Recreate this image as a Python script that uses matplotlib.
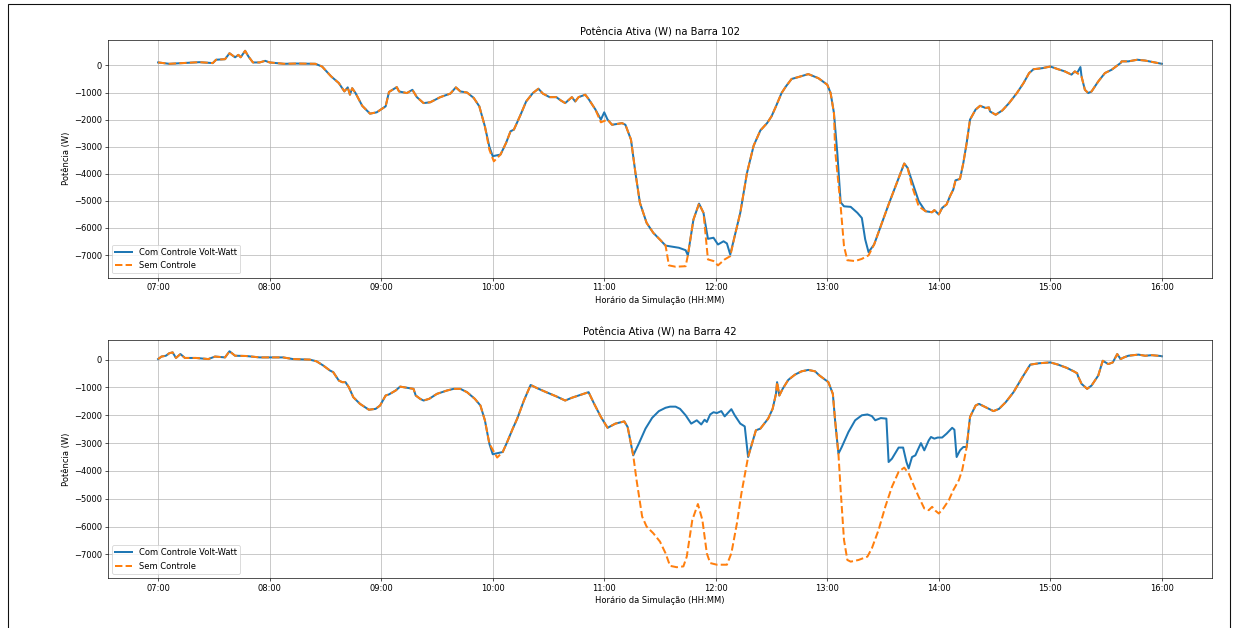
import matplotlib
matplotlib.use("Agg")
import matplotlib.pyplot as plt
import matplotlib.dates as mdates
from matplotlib.patches import Rectangle
import pandas as pd

# ---------------------------------------------------------------------------
# data (time in decimal hours, power in W)
# ---------------------------------------------------------------------------
b102_com_t = [7.0, 7.1, 7.22, 7.37, 7.49, 7.52, 7.6, 7.64, 7.69, 7.72, 7.74, 7.78, 7.81, 7.85, 7.91,
              7.96, 8.0, 8.13, 8.24, 8.41, 8.47, 8.55, 8.62, 8.67, 8.70, 8.72, 8.74, 8.77, 8.83, 8.90,
              8.96, 9.04, 9.07, 9.14, 9.16, 9.23, 9.28, 9.32, 9.38, 9.44, 9.53, 9.62, 9.67, 9.71, 9.77,
              9.83, 9.88, 9.93, 9.97, 10.0, 10.07, 10.12, 10.16, 10.19, 10.25, 10.30, 10.36, 10.41,
              10.45, 10.51, 10.57, 10.61, 10.65, 10.71, 10.74, 10.77, 10.83, 10.86, 10.92, 10.97, 11.0,
              11.03, 11.07, 11.16, 11.19, 11.24, 11.28, 11.32, 11.38, 11.44, 11.50, 11.55, 11.67, 11.73,
              11.75, 11.80, 11.85, 11.89, 11.93, 11.98, 12.02, 12.07, 12.10, 12.13, 12.17, 12.22, 12.28,
              12.34, 12.40, 12.46, 12.50, 12.54, 12.59, 12.63, 12.68, 12.74, 12.83, 12.92, 13.0, 13.03,
              13.06, 13.09, 13.12, 13.15, 13.21, 13.27, 13.31, 13.34, 13.37, 13.42, 13.48, 13.55, 13.63,
              13.69, 13.72, 13.76, 13.82, 13.88, 13.94, 13.96, 14.0, 14.03, 14.07, 14.10, 14.13, 14.15,
              14.19, 14.22, 14.25, 14.28, 14.33, 14.37, 14.42, 14.45, 14.46, 14.51, 14.57, 14.63, 14.70,
              14.76, 14.81, 14.85, 14.93, 15.0, 15.07, 15.13, 15.19, 15.22, 15.24, 15.27, 15.28, 15.31,
              15.34, 15.37, 15.43, 15.49, 15.55, 15.63, 15.64, 15.70, 15.78, 15.85, 15.94, 16.0]
b102_com_p = [110, 60, 86, 120, 86, 210, 230, 450, 300, 390, 300, 540, 330, 110, 110,
              170, 110, 60, 70, 60, -40, -400, -650, -960, -810, -1080, -840, -1020, -1490, -1780,
              -1730, -1510, -980, -800, -960, -1020, -900, -1170, -1390, -1360, -1170, -1040, -810, -960, -1000,
              -1200, -1510, -2250, -3000, -3350, -3290, -2860, -2430, -2370, -1820, -1330, -1020, -860,
              -1040, -1170, -1170, -1290, -1390, -1170, -1330, -1170, -1080, -1240, -1620, -2000, -1730,
              -2000, -2190, -2130, -2190, -2740, -3970, -5070, -5810, -6180, -6430, -6650, -6730, -6820,
              -7010, -5690, -5100, -5440, -6400, -6360, -6610, -6490, -6570, -6980, -6300, -5440, -3970,
              -2960, -2400, -2130, -1880, -1510, -1020, -770, -500, -430, -320, -470, -710, -1020,
              -1760, -3230, -5050, -5200, -5220, -5440, -5630, -6420, -6890, -6610, -5930, -5130, -4270,
              -3620, -3780, -4270, -5010, -5380, -5420, -5340, -5500, -5260, -5130, -4830, -4580, -4240,
              -4190, -3600, -2860, -2000, -1630, -1490, -1570, -1550, -1700, -1820, -1660, -1390, -1020,
              -650, -280, -140, -100, -40, -140, -220, -340, -220, -280, -60, -410, -900,
              -1020, -960, -590, -280, -160, 90, 150, 150, 210, 180, 110, 60]

b102_sem_t = [7.0, 7.1, 7.22, 7.37, 7.49, 7.52, 7.6, 7.64, 7.69, 7.72, 7.74, 7.78, 7.81, 7.85, 7.91,
              7.96, 8.0, 8.13, 8.24, 8.41, 8.47, 8.55, 8.62, 8.67, 8.70, 8.72, 8.74, 8.77, 8.83, 8.90,
              8.96, 9.04, 9.07, 9.14, 9.16, 9.23, 9.28, 9.32, 9.38, 9.44, 9.53, 9.62, 9.67, 9.71, 9.77,
              9.83, 9.88, 9.93, 9.97, 10.01, 10.07, 10.12, 10.16, 10.19, 10.25, 10.30, 10.36, 10.41,
              10.45, 10.51, 10.57, 10.61, 10.65, 10.71, 10.74, 10.77, 10.83, 10.86, 10.92, 10.97,
              11.03, 11.07, 11.16, 11.19, 11.24, 11.28, 11.32, 11.38, 11.44, 11.50, 11.55, 11.58, 11.64,
              11.73, 11.75, 11.80, 11.85, 11.89, 11.93, 11.98, 12.02, 12.08, 12.13, 12.17, 12.22, 12.28,
              12.34, 12.40, 12.46, 12.50, 12.54, 12.59, 12.63, 12.68, 12.74, 12.83, 12.92, 13.0, 13.03,
              13.06, 13.07, 13.12, 13.15, 13.18, 13.25, 13.31, 13.37, 13.42, 13.48, 13.55, 13.63,
              13.69, 13.72, 13.76, 13.82, 13.88, 13.94, 13.96, 14.0, 14.03, 14.07, 14.10, 14.13, 14.15,
              14.19, 14.22, 14.25, 14.28, 14.33, 14.37, 14.42, 14.45, 14.46, 14.51, 14.57, 14.63, 14.70,
              14.76, 14.81, 14.85, 14.93, 15.0, 15.07, 15.13, 15.19, 15.22, 15.24, 15.28, 15.31,
              15.34, 15.37, 15.43, 15.49, 15.55, 15.63, 15.64, 15.70, 15.78, 15.85, 15.94, 16.0]
b102_sem_p = [110, 60, 86, 120, 86, 210, 230, 450, 300, 390, 300, 540, 330, 110, 110,
              170, 110, 60, 70, 60, -40, -400, -650, -960, -810, -1080, -840, -1020, -1490, -1780,
              -1730, -1510, -980, -800, -960, -1020, -900, -1170, -1390, -1360, -1170, -1040, -810, -960, -1000,
              -1200, -1510, -2250, -3110, -3540, -3290, -2860, -2430, -2370, -1820, -1330, -1020, -860,
              -1040, -1170, -1170, -1290, -1390, -1170, -1330, -1170, -1080, -1240, -1620, -2100,
              -2000, -2190, -2130, -2190, -2740, -3970, -5070, -5810, -6180, -6430, -6650, -7380, -7430,
              -7410, -7010, -5690, -5100, -5440, -7160, -7220, -7380, -7160, -7040, -6300, -5440, -3970,
              -2960, -2400, -2130, -1880, -1510, -1020, -770, -500, -430, -320, -470, -710, -1020,
              -1760, -3110, -5200, -6670, -7190, -7220, -7140, -7010, -6610, -5930, -5130, -4270,
              -3620, -3780, -4460, -5200, -5380, -5420, -5340, -5500, -5260, -5130, -4830, -4580, -4240,
              -4190, -3600, -2860, -2000, -1630, -1490, -1570, -1550, -1700, -1820, -1660, -1390, -1020,
              -650, -280, -140, -100, -40, -140, -220, -340, -220, -280, -410, -900,
              -1020, -960, -590, -280, -160, 90, 150, 150, 210, 180, 110, 60]

b42_com_t = [7.0, 7.03, 7.07, 7.10, 7.13, 7.16, 7.20, 7.24, 7.34, 7.45, 7.51, 7.60, 7.64, 7.69, 7.79,
             7.91, 8.0, 8.12, 8.21, 8.36, 8.42, 8.48, 8.54, 8.57, 8.62, 8.65, 8.68, 8.71, 8.75, 8.81,
             8.89, 8.95, 8.99, 9.04, 9.07, 9.13, 9.17, 9.23, 9.29, 9.31, 9.35, 9.38, 9.43, 9.50, 9.59,
             9.65, 9.71, 9.77, 9.84, 9.89, 9.93, 9.97, 10.0, 10.09, 10.13, 10.18, 10.22, 10.28, 10.34,
             10.39, 10.48, 10.57, 10.65, 10.71, 10.80, 10.86, 10.91, 10.97, 11.03, 11.10, 11.18, 11.21,
             11.26, 11.31, 11.37, 11.43, 11.49, 11.55, 11.59, 11.64, 11.68, 11.73, 11.78, 11.83, 11.87,
             11.90, 11.92, 11.95, 11.98, 12.01, 12.05, 12.08, 12.14, 12.17, 12.22, 12.26, 12.29, 12.36,
             12.40, 12.47, 12.51, 12.54, 12.55, 12.57, 12.60, 12.65, 12.71, 12.77, 12.83, 12.89, 12.93,
             13.01, 13.05, 13.07, 13.10, 13.13, 13.19, 13.25, 13.31, 13.36, 13.40, 13.43, 13.48, 13.53,
             13.55, 13.58, 13.64, 13.68, 13.71, 13.73, 13.76, 13.79, 13.81, 13.84, 13.87, 13.91, 13.93,
             13.96, 13.99, 14.03, 14.07, 14.12, 14.14, 14.16, 14.19, 14.22, 14.25, 14.28, 14.33, 14.36,
             14.42, 14.49, 14.54, 14.60, 14.67, 14.75, 14.82, 14.90, 15.0, 15.07, 15.15, 15.21, 15.24,
             15.25, 15.28, 15.33, 15.37, 15.43, 15.47, 15.52, 15.56, 15.60, 15.63, 15.66, 15.70, 15.79,
             15.85, 15.91, 15.99, 16.0]
b42_com_p = [20, 110, 140, 230, 260, 60, 200, 60, 60, 20, 110, 80, 300, 140, 130,
             80, 80, 80, 20, 0, -60, -210, -390, -450, -750, -810, -810, -990, -1350, -1590,
             -1800, -1770, -1650, -1290, -1250, -1110, -970, -1010, -1050, -1290, -1410, -1470, -1410, -1230, -1110,
             -1050, -1050, -1170, -1410, -1650, -2180, -3020, -3400, -3320, -2960, -2480, -2120, -1470, -910,
             -1010, -1170, -1320, -1470, -1370, -1250, -1170, -1590, -2060, -2450, -2300, -2220, -2420,
             -3440, -3020, -2480, -2090, -1850, -1730, -1690, -1690, -1770, -2000, -2300, -2180, -2330,
             -2160, -2240, -1970, -1890, -1920, -1850, -2040, -1780, -2000, -2300, -2400, -3500, -2540,
             -2480, -2120, -1770, -1230, -810, -1290, -1050, -730, -540, -420, -370, -420, -570,
             -810, -1230, -2180, -3380, -3140, -2600, -2180, -2000, -1970, -2030, -2180, -2100, -2120,
             -3680, -3560, -3160, -3160, -3680, -3910, -3500, -3440, -3260, -3000, -3260, -2900, -2780,
             -2840, -2800, -2800, -2660, -2450, -2520, -3500, -3260, -3140, -3140, -2060, -1650, -1590,
             -1710, -1850, -1770, -1530, -1170, -630, -180, -130, -100, -180, -300, -420, -490,
             -610, -870, -1050, -930, -570, -40, -160, -100, 200, 20, 80, 140, 180,
             140, 160, 130, 120]

b42_sem_t = [7.0, 7.03, 7.07, 7.10, 7.13, 7.16, 7.20, 7.24, 7.34, 7.45, 7.51, 7.60, 7.64, 7.69, 7.79,
             7.91, 8.0, 8.12, 8.21, 8.36, 8.42, 8.48, 8.54, 8.57, 8.62, 8.65, 8.68, 8.71, 8.75, 8.81,
             8.89, 8.95, 8.99, 9.04, 9.07, 9.13, 9.17, 9.23, 9.29, 9.31, 9.35, 9.38, 9.43, 9.50, 9.59,
             9.65, 9.71, 9.77, 9.84, 9.89, 9.93, 9.97, 10.04, 10.09, 10.13, 10.18, 10.22, 10.28, 10.34,
             10.39, 10.48, 10.57, 10.65, 10.71, 10.80, 10.86, 10.91, 10.97, 11.03, 11.10, 11.18, 11.21,
             11.26, 11.29, 11.34, 11.38, 11.44, 11.50, 11.55, 11.59, 11.65, 11.71, 11.74, 11.79, 11.84,
             11.88, 11.92, 11.95, 12.01, 12.10, 12.14, 12.19, 12.23, 12.29, 12.36,
             12.40, 12.47, 12.51, 12.54, 12.55, 12.57, 12.60, 12.65, 12.71, 12.77, 12.83, 12.89, 12.93,
             13.01, 13.05, 13.07, 13.10, 13.12, 13.15, 13.18, 13.21, 13.28, 13.36, 13.40, 13.46, 13.52,
             13.58, 13.64, 13.69, 13.73, 13.78, 13.82, 13.87, 13.91, 13.94, 13.97, 14.0, 14.04, 14.09,
             14.13, 14.18, 14.21, 14.25, 14.28, 14.33, 14.36,
             14.42, 14.49, 14.54, 14.60, 14.67, 14.75, 14.82, 14.90, 15.0, 15.07, 15.15, 15.21, 15.24,
             15.25, 15.28, 15.33, 15.37, 15.43, 15.47, 15.52, 15.56, 15.60, 15.63, 15.66, 15.70, 15.79,
             15.85, 15.91, 15.99, 16.0]
b42_sem_p = [20, 110, 140, 230, 260, 60, 200, 60, 60, 20, 110, 80, 300, 140, 130,
             80, 80, 80, 20, 0, -60, -210, -390, -450, -750, -810, -810, -990, -1350, -1590,
             -1800, -1770, -1650, -1290, -1250, -1110, -970, -1010, -1050, -1290, -1410, -1470, -1410, -1230, -1110,
             -1050, -1050, -1170, -1410, -1650, -2180, -3020, -3520, -3320, -2960, -2480, -2120, -1470, -910,
             -1010, -1170, -1320, -1470, -1370, -1250, -1170, -1590, -2060, -2450, -2300, -2220, -2420,
             -3440, -4330, -5640, -6000, -6240, -6540, -6960, -7410, -7460, -7430, -7080, -5760, -5190,
             -5760, -6960, -7310, -7370, -7370, -6960, -5880, -4810, -3500, -2540,
             -2480, -2120, -1770, -1230, -810, -1290, -1050, -730, -540, -420, -370, -420, -570,
             -810, -1230, -2180, -3380, -4690, -6480, -7200, -7260, -7200, -7080, -6780, -6120, -5290,
             -4570, -4030, -3880, -4090, -4570, -4930, -5350, -5410, -5290, -5430, -5530, -5350, -5050,
             -4690, -4330, -3970, -3140, -2060, -1650, -1590,
             -1710, -1850, -1770, -1530, -1170, -630, -180, -130, -100, -180, -300, -420, -490,
             -610, -870, -1050, -930, -570, -40, -160, -100, 200, 20, 80, 140, 180,
             140, 160, 130, 120]

barras = ["102", "42"]
labels = ["Com Controle Volt-Watt", "Sem Controle"]

DAY = pd.Timestamp("2024-01-01")


def to_time(hours):
    return DAY + pd.to_timedelta(hours, unit="h")


fig, axs = plt.subplots(2, 1, figsize=(1235 / 60, 628 / 60), dpi=60)
fig.subplots_adjust(left=0.0874, right=0.9814, top=0.9363, bottom=0.0796, hspace=0.265)

series = [((b102_com_t, b102_com_p), (b102_sem_t, b102_sem_p)),
          ((b42_com_t, b42_com_p), (b42_sem_t, b42_sem_p))]

for ax, barra, (com, sem) in zip(axs, barras, series):
    ax.plot(to_time(com[0]), com[1], color="#1f77b4", lw=2.4, label=labels[0])
    ax.plot(to_time(sem[0]), sem[1], color="#ff7f0e", lw=2.4, ls="--", label=labels[1])
    ax.set_title(f"Potência Ativa (W) na Barra {barra}")
    ax.set_xlabel("Horário da Simulação (HH:MM)")
    ax.set_ylabel("Potência (W)")
    ax.xaxis.set_major_locator(mdates.HourLocator())
    ax.xaxis.set_major_formatter(mdates.DateFormatter("%H:%M"))
    ax.grid(True)
    ax.legend(loc="lower left")

# frame around the picture, as in the reference
fig.add_artist(Rectangle((7.5 / 1235, -0.05), (1230 - 7.5) / 1235, 1.05 - 4.5 / 628,
                         transform=fig.transFigure, fill=False, lw=1.3, ec="#111111"))

fig.savefig("out.png", dpi=60)
